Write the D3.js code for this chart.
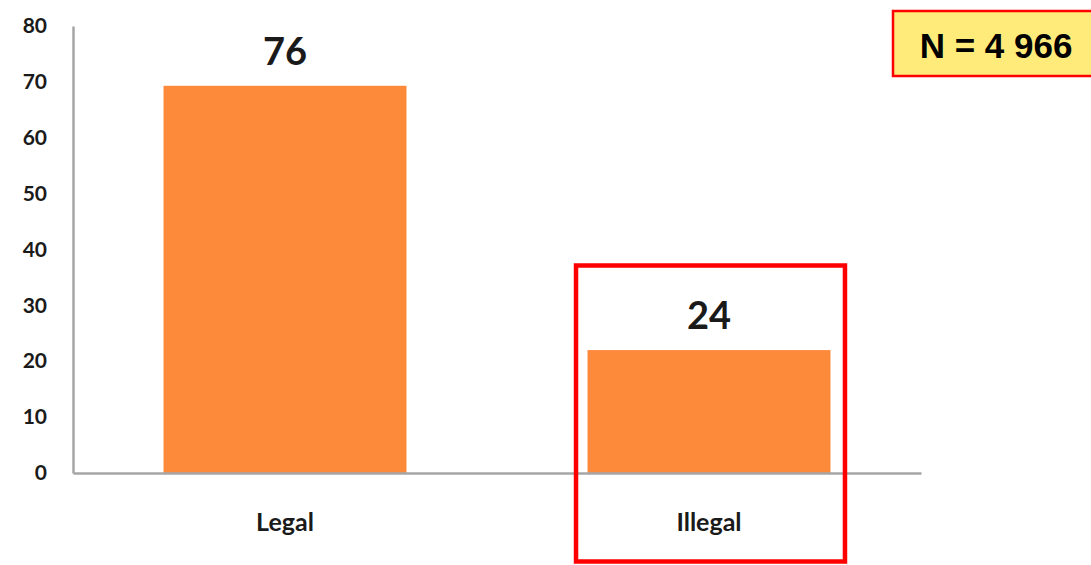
<!DOCTYPE html>
<html><head><meta charset="utf-8">
<script src="https://cdn.jsdelivr.net/npm/d3@7"></script>
<style>html,body{margin:0;padding:0;background:#fff;}svg{display:block;}</style>
</head><body>
<script>
const categories = ["Legal", "Illegal"];
const barValues = [69.3, 22.0];
const valueLabels = ["76", "24"];
const yTicks = [0, 10, 20, 30, 40, 50, 60, 70, 80];
const nText = "N = 4 966";

const W = 1091, H = 565;
const svg = d3.select("body").append("svg").attr("width", W).attr("height", H);

const x = d3.scaleBand().domain(categories).range([73, 921]).paddingInner(0.427).paddingOuter(0.2135);
const y = d3.scaleLinear().domain([0, 80]).range([473, 26]);

// bars
svg.selectAll("rect.bar").data(categories).enter().append("rect")
  .attr("class", "bar")
  .attr("x", d => x(d))
  .attr("width", x.bandwidth())
  .attr("y", (d, i) => y(barValues[i]))
  .attr("height", (d, i) => y(0) - y(barValues[i]))
  .attr("fill", "#fd8a3b");

// y axis
const yAxis = d3.axisLeft(y).tickValues(yTicks).tickSize(0).tickPadding(26);
const gy = svg.append("g").attr("transform", "translate(73,0)").call(yAxis);
gy.select(".domain").attr("stroke", "#a6a6a6").attr("stroke-width", 2.5);
gy.selectAll("text").attr("font-family", "Lato, sans-serif").attr("font-weight", "bold")
  .attr("font-size", 21).attr("fill", "#1a1a1a");

// x axis
const xAxis = d3.axisBottom(x).tickSize(0).tickPadding(40);
const gx = svg.append("g").attr("transform", "translate(0,473)").call(xAxis);
gx.select(".domain").attr("stroke", "#a6a6a6").attr("stroke-width", 2.5);
gx.selectAll("text").attr("font-family", "Lato, sans-serif").attr("font-weight", "bold")
  .attr("font-size", 25).attr("fill", "#1a1a1a");

// value labels
svg.selectAll("text.val").data(categories).enter().append("text")
  .attr("class", "val")
  .attr("x", d => x(d) + x.bandwidth() / 2)
  .attr("y", (d, i) => y(barValues[i]) - 21)
  .attr("text-anchor", "middle")
  .attr("font-family", "Lato, sans-serif")
  .attr("font-weight", "bold")
  .attr("font-size", 38)
  .attr("fill", "#1a1a1a")
  .text((d, i) => valueLabels[i]);

// red highlight rectangle around Illegal
const hx = x("Illegal");
svg.append("rect")
  .attr("x", hx - 11.5).attr("y", 265.5)
  .attr("width", x.bandwidth() + 26).attr("height", 296)
  .attr("fill", "none").attr("stroke", "#ff0000").attr("stroke-width", 4.5);

// N box
svg.append("rect").attr("x", 893).attr("y", 11).attr("width", 200).attr("height", 65)
  .attr("fill", "#ffeb7a").attr("stroke", "#ff0000").attr("stroke-width", 2.5);
svg.append("text").attr("x", 996).attr("y", 58).attr("text-anchor", "middle")
  .attr("font-family", "'Liberation Sans', Arial, sans-serif").attr("font-weight", "bold")
  .attr("font-size", 35).attr("fill", "#000").text(nText);
</script>
</body></html>
